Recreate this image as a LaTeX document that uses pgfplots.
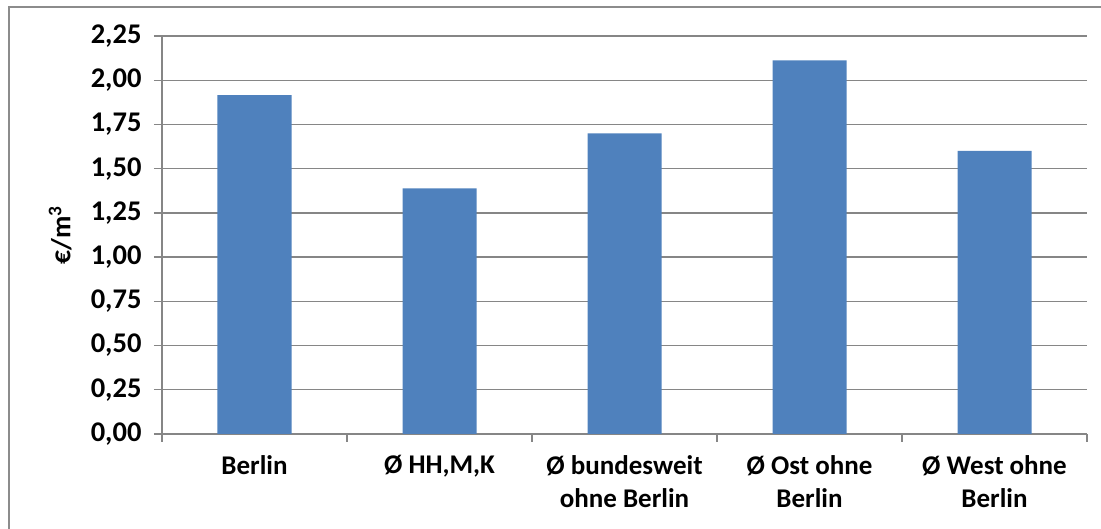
\documentclass[border=0pt]{standalone}
\usepackage{fontspec}
\setmainfont{Carlito}
\usepackage{pgfplots}
\pgfplotsset{compat=1.18}
\definecolor{barblue}{RGB}{79,129,189}
\definecolor{gridgray}{RGB}{134,134,134}
\definecolor{framegray}{RGB}{140,140,140}
\begin{document}
\begin{tikzpicture}[x=1pt,y=1pt]
\useasboundingbox (0,0) rectangle (1101,529);
\draw[framegray, line width=1.4pt] (9,0) -- (9,522) -- (1101,522);
\begin{axis}[
  at={(162pt,95pt)}, anchor=south west,
  scale only axis, width=925pt, height=398pt,
  xmin=0.5, xmax=5.5, ymin=0, ymax=2.25,
  axis x line*=bottom, axis y line*=left,
  axis line style={gridgray, line width=1.3pt, -},
  ymajorgrids, grid style={gridgray, line width=1.3pt},
  tick align=outside, major tick length=8pt,
  tick style={gridgray, line width=1.3pt},
  ytick={0,0.25,...,2.25},
  yticklabel style={xshift=-9pt, font=\bfseries\fontsize{28.5}{32}\selectfont,
    /pgf/number format/.cd, fixed, fixed zerofill, precision=2, use comma, assume math mode=true},
  xtick={0.5,1.5,...,5.5}, xticklabels={},
  extra x ticks={1,2,3,4,5},
  extra x tick labels={Berlin, {Ø HH,M,K}, {Ø bundesweit\\ohne Berlin}, {Ø Ost ohne\\Berlin}, {Ø West ohne\\Berlin}},
  extra x tick style={major tick length=0pt, grid=none,
    xticklabel style={align=center, yshift=-18pt, font=\bfseries\fontsize{27}{33}\selectfont}},
  ylabel={€/m\textsuperscript{3}},
  ylabel style={font=\bfseries\fontsize{27.5}{30}\selectfont, at={(axis description cs:-0.11,0.5)}, anchor=center},
  ybar, bar width=74pt,
]
\addplot[fill=barblue, draw=none] coordinates {
(1,1.915)
(2,1.389)
(3,1.700)
(4,2.112)
(5,1.601)
};
\end{axis}
\end{tikzpicture}
\end{document}
